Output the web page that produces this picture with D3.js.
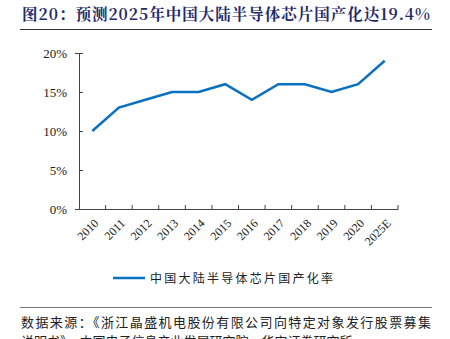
<!DOCTYPE html>
<html><head><meta charset="utf-8">
<script src="https://cdn.jsdelivr.net/npm/d3@7"></script>
<style>body{margin:0;background:#fff}svg{display:block}</style>
</head><body>
<script>
const categories = ["2010","2011","2012","2013","2014","2015","2016","2017","2018","2019","2020","2025E"];
const values = [10,13,14,15,15,16,14,16,16,15,16,19];
const yTicks = [0,5,10,15,20];
const seriesName = "中国大陆半导体芯片国产化率";
const title = "图20：预测2025年中国大陆半导体芯片国产化达19.4%";
const source1 = "数据来源：《浙江晶盛机电股份有限公司向特定对象发行股票募集";
const source2 = "说明书》，中国电子信息产业发展研究院，华安证券研究所";

const W=450,H=339;
const svg=d3.select("body").append("svg").attr("width",W).attr("height",H);
const serif="'Liberation Serif','DejaVu Serif',serif";
const cjk="'Noto Sans CJK SC',sans-serif";

svg.append("text").attr("x",22).attr("y",20).attr("fill","#1f2a6b")
  .attr("font-family","'Noto Serif CJK SC','Liberation Serif','Noto Sans CJK SC',serif").attr("font-weight","bold")
  .attr("font-size",15.5).attr("textLength",408).text(title);
svg.append("line").attr("x1",20).attr("x2",432).attr("y1",29.5).attr("y2",29.5).attr("stroke","#333").attr("stroke-width",1);

const x=d3.scaleBand().domain(categories).range([79,398]);
const y=d3.scaleLinear().domain([0,20]).range([209,53]);

const gx=svg.append("g").attr("transform","translate(0,209)")
  .call(d3.axisBottom(x).tickSize(0).tickFormat(d=>d));
gx.select(".domain").attr("stroke","#444");
gx.selectAll("text").attr("font-family",serif).attr("font-size",12).attr("fill","#222")
  .attr("text-anchor","end").attr("x",0).attr("y",0).attr("dx",0).attr("dy","0.35em")
  .attr("transform","translate(4,12) rotate(-45)");
// tick marks at band boundaries
svg.append("g").selectAll("line").data(categories).join("line")
  .attr("x1",(d,i)=>x(d)+x.step()).attr("x2",(d,i)=>x(d)+x.step())
  .attr("y1",209).attr("y2",205).attr("stroke","#444");

const gy=svg.append("g").attr("transform","translate(79,0)")
  .call(d3.axisLeft(y).tickValues(yTicks).tickSize(4).tickFormat(d=>d+"%"));
gy.select(".domain").attr("stroke","#444");
gy.selectAll(".tick line").attr("stroke","#444").attr("x2",4);
gy.selectAll("text").attr("font-family",serif).attr("font-size",13).attr("fill","#222").attr("x",-12);

const line=d3.line().x((d,i)=>x(categories[i])+x.bandwidth()/2).y(d=>y(d));
svg.append("path").datum(values).attr("d",line).attr("fill","none")
  .attr("stroke","#0a70c0").attr("stroke-width",2.5);

svg.append("line").attr("x1",113).attr("x2",145).attr("y1",278).attr("y2",278).attr("stroke","#0a70c0").attr("stroke-width",2.5);
svg.append("text").attr("x",150).attr("y",282.5).attr("font-family",cjk).attr("font-size",12).attr("fill","#222")
  .attr("textLength",183).text(seriesName);

svg.append("line").attr("x1",20).attr("x2",432).attr("y1",307.5).attr("y2",307.5).attr("stroke","#777").attr("stroke-width",1);
svg.append("text").attr("x",21).attr("y",327).attr("font-family",cjk).attr("font-size",13).attr("fill","#222")
  .attr("textLength",410).text(source1);
svg.append("text").attr("x",21).attr("y",346).attr("font-family",cjk).attr("font-size",13).attr("fill","#222")
  .text(source2);
</script>
</body></html>
